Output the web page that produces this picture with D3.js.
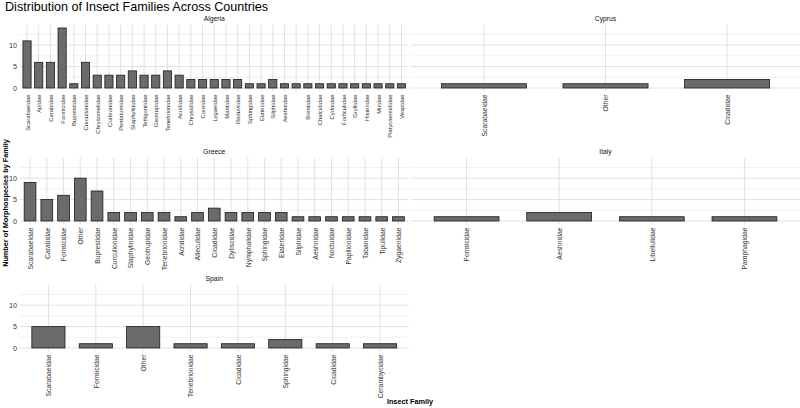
<!DOCTYPE html>
<html>
<head>
<meta charset="utf-8" />
<title>Distribution of Insect Families Across Countries</title>
<script src="https://cdnjs.cloudflare.com/ajax/libs/d3/7.8.5/d3.min.js"></script>
<style>
  html, body { margin: 0; background: #fff; }
  svg { display: block; font-family: "Liberation Sans", Arial, sans-serif; }
</style>
</head>
<body>
<svg id="chart" width="800" height="408"></svg>
<script>
// data
var algeriaFamilies = ["Scarabaeidae","Apidae","Carabidae","Formicidae","Buprestidae","Curculionidae",
  "Chrysomelidae","Crabronidae","Pentatomidae","Staphylinidae","Tettigoniidae","Geotrupidae",
  "Tenebrionidae","Acrididae","Chrysididae","Coreidae","Lygaeidae","Mantidae","Reduviidae",
  "Sphingidae","Elateridae","Silphidae","Aeshnidae","","Brentidae","Chalcididae","Cydnidae",
  "Forficulidae","Gryllidae","Histeridae","Miridae","Platycnemididae","Vespidae"];
var algeriaCounts = [11,6,6,14,1,6,3,3,3,4,3,3,4,3,2,2,2,2,2,1,1,2,1,1,1,1,1,1,1,1,1,1,1];

var cyprusFamilies = ["Scarabaeidae","Other","Cicadidae"];
var cyprusCounts = [1,1,2];

var greeceFamilies = ["Scarabaeidae","Carabidae","Formicidae","Other","Buprestidae","Curculionidae",
  "Staphylinidae","Geotrupidae","Tenebrionidae","Acrididae","Alleculidae","Cicadidae","Dytiscidae",
  "Nymphalidae","Sphingidae","Elateridae","Silphidae","Aeshnidae","Noctuidae","Papilionidae",
  "Tabanidae","Tipulidae","Zygaenidae"];
var greeceCounts = [9,5,6,10,7,2,2,2,2,1,2,3,2,2,2,2,1,1,1,1,1,1,1];

var italyFamilies = ["Formicidae","Aeshnidae","Libellulidae","Pamphagidae"];
var italyCounts = [1,2,1,1];

var spainFamilies = ["Scarabaeidae","Formicidae","Other","Tenebrionidae","Cicadidae","Sphingidae","Cicadidae","Cerambycidae"];
var spainCounts = [5,1,5,1,1,2,1,1];

var yTicks = [0, 5, 10];
var yMinor = [2.5, 7.5, 12.5];

var panels = [
  { name: "Algeria", fams: algeriaFamilies, vals: algeriaCounts, col: 0, row: 0, fs: 5.9 },
  { name: "Cyprus",  fams: cyprusFamilies,  vals: cyprusCounts,  col: 1, row: 0, fs: 6.8 },
  { name: "Greece",  fams: greeceFamilies,  vals: greeceCounts,  col: 0, row: 1, fs: 6.8 },
  { name: "Italy",   fams: italyFamilies,   vals: italyCounts,   col: 1, row: 1, fs: 6.8 },
  { name: "Spain",   fams: spainFamilies,   vals: spainCounts,   col: 0, row: 2, fs: 6.8 }
];

var colX = [[20, 408.5], [411, 800]];
var rowTop = [25, 158, 285];
var panelH = 66;

var svg = d3.select("#chart");

svg.append("text")
  .attr("x", 5).attr("y", 11)
  .attr("font-size", 12.6).attr("fill", "#000")
  .text("Distribution of Insect Families Across Countries");

panels.forEach(function(p) {
  var top = rowTop[p.row], bottom = top + panelH;
  var idx = d3.range(p.fams.length);
  var x = d3.scalePoint().domain(idx).range(colX[p.col]).padding(0.6);
  var y = d3.scaleLinear().domain([-0.7, 14.7]).range([bottom, top]);
  var bw = x.step() * 0.7;

  var g = svg.append("g");

  // grid
  g.selectAll("line.minor").data(yMinor).enter().append("line")
    .attr("x1", colX[p.col][0]).attr("x2", colX[p.col][1])
    .attr("y1", d => y(d)).attr("y2", d => y(d))
    .attr("stroke", "#e8e8e8").attr("stroke-width", 0.6);
  g.selectAll("line.major").data(yTicks).enter().append("line")
    .attr("x1", colX[p.col][0]).attr("x2", colX[p.col][1])
    .attr("y1", d => y(d)).attr("y2", d => y(d))
    .attr("stroke", "#dedede").attr("stroke-width", 0.9);
  g.selectAll("line.vert").data(idx).enter().append("line")
    .attr("x1", d => x(d)).attr("x2", d => x(d))
    .attr("y1", top).attr("y2", bottom)
    .attr("stroke", "#dedede").attr("stroke-width", 0.9);

  // bars
  g.selectAll("rect").data(idx).enter().append("rect")
    .attr("x", d => x(d) - bw / 2)
    .attr("width", bw)
    .attr("y", d => y(p.vals[d]))
    .attr("height", d => y(0) - y(p.vals[d]))
    .attr("fill", "#6b6b6b")
    .attr("stroke", "#1c1c1c")
    .attr("stroke-width", 0.8);

  // strip
  svg.append("text")
    .attr("x", (colX[p.col][0] + colX[p.col][1]) / 2)
    .attr("y", top - 4)
    .attr("text-anchor", "middle")
    .attr("font-size", 6.8).attr("fill", "#111")
    .text(p.name);

  // x axis
  var xAxis = d3.axisBottom(x).tickSize(0).tickPadding(0).tickFormat(d => p.fams[d]);
  var ax = svg.append("g").attr("transform", "translate(0," + (bottom + 3.5) + ")").call(xAxis);
  ax.select(".domain").remove();
  ax.selectAll("text")
    .attr("transform", "rotate(-90)")
    .attr("x", 0).attr("y", 0).attr("dy", "0.35em")
    .attr("text-anchor", "end")
    .attr("font-size", p.fs)
    .attr("font-family", "Liberation Sans, Arial, sans-serif")
    .attr("fill", "#333");

  // y axis only on left column
  if (p.col === 0) {
    var yAxis = d3.axisLeft(y).tickValues(yTicks).tickSize(0).tickPadding(0);
    var ay = svg.append("g").attr("transform", "translate(17,0)").call(yAxis);
    ay.select(".domain").remove();
    ay.selectAll("text")
      .attr("font-size", 7.2)
      .attr("font-family", "Liberation Sans, Arial, sans-serif")
      .attr("fill", "#333");
  }
});

svg.append("text")
  .attr("transform", "translate(8,203) rotate(-90)")
  .attr("text-anchor", "middle")
  .attr("font-size", 7.3).attr("font-weight", "bold")
  .text("Number of Morphospecies by Family");

svg.append("text")
  .attr("x", 410).attr("y", 404)
  .attr("text-anchor", "middle")
  .attr("font-size", 7.3).attr("font-weight", "bold")
  .text("Insect Family");
</script>
</body>
</html>
